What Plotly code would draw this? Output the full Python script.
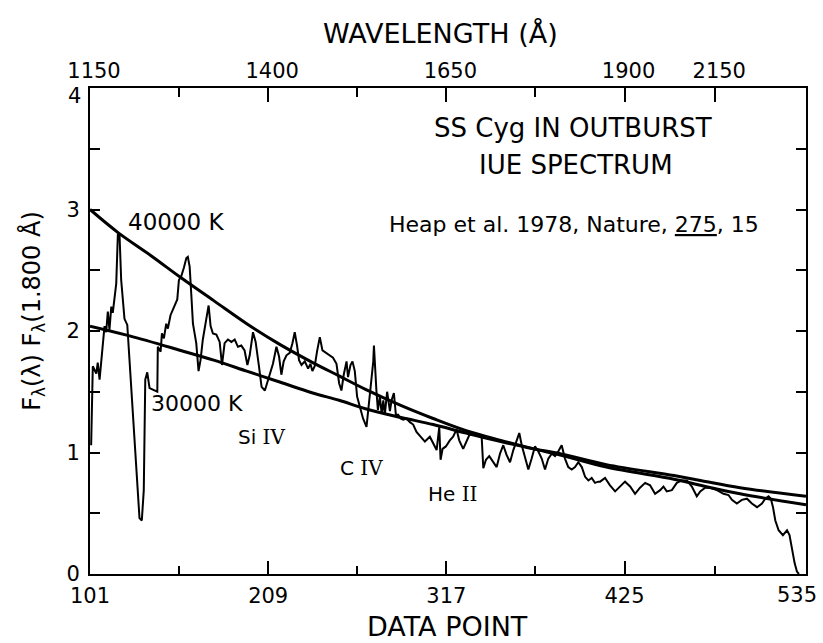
import plotly.graph_objects as go

# --- IUE spectrum of SS Cyg in outburst (flux normalised at 1800 A) ---
spec_x = [101.7, 102.7, 104.8, 105.7, 106.8, 107.8, 108.8, 109.8, 110.8, 111.8,
          112.8, 113.9, 114.8, 116.9, 117.9, 118.9, 119.9, 121.9, 123.6, 126.0,
          129.0, 131.0, 132.4, 133.6, 134.5, 135.7, 137.1, 141.8, 142.1, 143.8,
          144.6, 145.8, 147.2, 148.2, 149.8, 151.2, 152.3, 153.9, 154.9, 156.3,
          157.9, 159.4, 160.3, 161.4, 162.4, 163.4, 165.4, 166.8, 168.0, 169.4,
          171.5, 172.9, 174.1, 175.5, 177.6, 179.6, 181.0, 182.6, 184.6, 186.7,
          188.7, 190.7, 192.7, 194.7, 196.4, 197.8, 199.8, 201.4, 203.4, 205.0,
          207.0, 209.0, 211.9, 214.0, 215.6, 217.0, 218.4, 220.1, 222.1, 223.7,
          225.1, 226.5, 227.7, 229.2, 231.2, 233.2, 234.6, 235.8, 237.2, 238.6,
          240.3, 241.9, 243.9, 246.3, 248.3, 250.4, 252.0, 253.4, 254.8, 256.5,
          257.4, 258.9, 260.1, 261.5, 262.9, 264.5, 266.5, 268.6, 269.6, 270.2,
          271.2, 272.7, 273.1, 273.7, 274.6, 275.5, 276.7, 277.8, 278.8, 279.7,
          281.1, 282.8, 283.8, 285.2, 286.4, 287.8, 289.2, 290.8, 292.9, 294.9,
          296.9, 298.9, 300.9, 304.0, 307.0, 309.0, 311.1, 312.7, 313.5, 314.7,
          316.7, 319.1, 321.1, 323.2, 324.8, 327.2, 329.3, 330.8, 333.3, 336.3,
          338.4, 339.4, 341.0, 343.0, 345.4, 347.5, 349.5, 351.5, 353.5, 355.6,
          357.6, 359.6, 361.2, 362.7, 364.7, 366.7, 368.7, 370.7, 372.7, 374.8,
          376.8, 378.8, 380.9, 382.9, 384.9, 386.9, 388.9, 390.9, 393.0, 395.0,
          397.0, 399.1, 401.1, 403.1, 405.1, 407.1, 409.1, 410.2, 413.2, 416.2,
          419.3, 422.3, 425.3, 428.4, 431.4, 434.4, 437.5, 440.5, 443.5, 446.6,
          448.6, 450.6, 453.7, 456.7, 459.8, 462.8, 465.8, 468.8, 470.9, 473.9,
          476.9, 481.0, 485.0, 488.0, 490.1, 493.1, 496.1, 499.2, 502.2, 505.3,
          508.3, 510.3, 512.3, 513.7, 515.0, 516.4, 518.4, 521.0, 523.5, 525.0,
          526.5, 528.1, 529.5, 530.7]
spec_y = [1.06, 1.71, 1.65, 1.74, 1.60, 1.76, 1.95, 2.04, 1.99, 2.16,
          2.01, 2.20, 2.15, 2.39, 2.80, 2.79, 2.42, 2.10, 2.05, 1.54,
          0.88, 0.46, 0.44, 0.69, 1.60, 1.66, 1.53, 1.50, 1.87, 1.83,
          1.98, 1.94, 2.06, 2.02, 2.13, 2.17, 2.20, 2.26, 2.42, 2.45,
          2.52, 2.60, 2.61, 2.53, 2.30, 2.06, 1.90, 1.67, 1.76, 1.93,
          2.10, 2.21, 2.04, 1.98, 1.97, 1.91, 1.72, 1.90, 1.93, 1.91,
          1.93, 1.87, 1.88, 1.84, 1.72, 1.80, 1.99, 1.91, 1.71, 1.54,
          1.51, 1.60, 1.73, 1.87, 1.79, 1.64, 1.75, 1.80, 1.82, 1.90,
          1.99, 1.88, 1.76, 1.72, 1.75, 1.69, 1.73, 1.67, 1.71, 1.83,
          1.95, 1.84, 1.82, 1.80, 1.78, 1.73, 1.57, 1.51, 1.64, 1.75,
          1.62, 1.72, 1.75, 1.67, 1.46, 1.38, 1.28, 1.21, 1.35, 1.46,
          1.57, 1.75, 1.88, 1.71, 1.51, 1.35, 1.46, 1.32, 1.43, 1.31,
          1.50, 1.34, 1.43, 1.49, 1.31, 1.31, 1.28, 1.27, 1.28, 1.25,
          1.23, 1.17, 1.14, 1.09, 1.13, 1.08, 1.02, 1.21, 0.94, 1.03,
          1.05, 1.10, 1.13, 1.19, 1.10, 1.03, 1.10, 1.14, 1.16, 1.14,
          1.13, 0.87, 0.94, 0.97, 0.92, 0.88, 0.99, 1.06, 0.98, 0.92,
          1.02, 1.10, 1.16, 1.06, 0.97, 0.86, 0.95, 1.05, 1.01, 0.95,
          0.86, 0.95, 0.99, 0.97, 1.01, 1.06, 0.95, 0.88, 0.86, 0.88,
          0.92, 0.88, 0.80, 0.77, 0.79, 0.75, 0.76, 0.76, 0.79, 0.73,
          0.68, 0.72, 0.76, 0.72, 0.66, 0.71, 0.75, 0.73, 0.66, 0.69,
          0.72, 0.68, 0.69, 0.75, 0.77, 0.77, 0.72, 0.64, 0.68, 0.71,
          0.71, 0.69, 0.66, 0.65, 0.61, 0.58, 0.61, 0.62, 0.58, 0.55,
          0.58, 0.62, 0.64, 0.62, 0.55, 0.44, 0.36, 0.32, 0.36, 0.32,
          0.20, 0.09, 0.02, 0.00]

# --- Blackbody comparison curves, normalised at 1800 A ---
bb40_x = [101, 118, 138, 156, 176, 196, 216, 236, 252, 268,
          289, 309, 329, 350, 370, 386, 414, 455, 471, 495, 535]
bb40_y = [3.00, 2.81, 2.62, 2.44, 2.25, 2.06, 1.89, 1.74, 1.63, 1.52,
          1.39, 1.28, 1.18, 1.10, 1.03, 0.98, 0.88, 0.78, 0.73, 0.66, 0.57]

bb30_x = [101, 125, 156, 176, 196, 216, 236, 252, 268, 289,
          309, 329, 350, 370, 386, 414, 455, 471, 495, 535]
bb30_y = [2.04, 1.96, 1.84, 1.76, 1.67, 1.58, 1.49, 1.43, 1.36, 1.29,
          1.23, 1.16, 1.09, 1.03, 0.99, 0.90, 0.81, 0.77, 0.71, 0.64]

# --- Axes ---
dp_ticks = [101, 209, 317, 425]
dp_last = "535"
dp_minor = [155, 263, 371, 480]
wl_pos = [101, 209, 317, 425, 480]
wl_text = ["1150", "1400", "1650", "1900", "2150"]
wl_minor = [155, 263, 371]
y_ticks = [0, 1, 2, 3]
y_minor = [0.5, 1.5, 2.5, 3.5]
y_top_label = "4"

FONT = "DejaVu Sans"
INK = "black"

fig = go.Figure()
fig.add_trace(go.Scatter(x=bb40_x, y=bb40_y, mode="lines",
                         line=dict(color=INK, width=3, shape="spline", smoothing=1.0),
                         showlegend=False, hoverinfo="skip"))
fig.add_trace(go.Scatter(x=bb30_x, y=bb30_y, mode="lines",
                         line=dict(color=INK, width=3, shape="spline", smoothing=1.0),
                         showlegend=False, hoverinfo="skip"))
fig.add_trace(go.Scatter(x=spec_x, y=spec_y, mode="lines",
                         line=dict(color=INK, width=2),
                         showlegend=False))
# carrier for the wavelength axis along the top
fig.add_trace(go.Scatter(x=[101, 535], y=[None, None], xaxis="x2", yaxis="y",
                         mode="lines", showlegend=False, hoverinfo="skip"))

axis_common = dict(showgrid=False, zeroline=False, showline=True,
                   linecolor=INK, linewidth=2, ticks="inside",
                   tickcolor=INK, tickwidth=2, ticklabeloverflow="allow",
                   automargin=False,
                   tickfont=dict(family=FONT, size=21, color=INK))

fig.update_layout(
    width=823, height=643,
    margin=dict(l=90, r=17, t=88, b=69),
    paper_bgcolor="white", plot_bgcolor="white",
    font=dict(family=FONT, color=INK),
    xaxis=dict(range=[101, 535], tickvals=dp_ticks, ticklen=13,
               ticklabelstandoff=2,
               minor=dict(tickvals=dp_minor, ticklen=8, ticks="inside",
                          tickcolor=INK, tickwidth=2),
               **axis_common),
    xaxis2=dict(range=[101, 535], overlaying="x", side="top", anchor="y",
                tickvals=wl_pos, ticktext=wl_text, ticklen=14,
                ticklabelshift=4,
                minor=dict(tickvals=wl_minor, ticklen=9, ticks="inside",
                           tickcolor=INK, tickwidth=2),
                **axis_common),
    yaxis=dict(range=[0, 4], tickvals=y_ticks, ticklen=10, mirror="ticks",
               ticklabelstandoff=4,
               minor=dict(tickvals=y_minor, ticklen=10, ticks="inside",
                          tickcolor=INK, tickwidth=2),
               **axis_common),
)

def label(text, x, y, size, ref="data", **kw):
    xr, yr = ("x", "y") if ref == "data" else ("paper", "paper")
    fig.add_annotation(text=text, x=x, y=y, xref=xr, yref=yr, showarrow=False,
                       font=dict(family=FONT, size=size, color=INK),
                       xanchor="center", yanchor="middle", **kw)

# corner values, nudged inside the frame corners
label(y_top_label, -0.022, 0.983, 21, ref="paper")
label(dp_last, 0.987, -0.043, 21, ref="paper")

# axis titles
label("WAVELENGTH (Å)", 0.490, 1.113, 27, ref="paper")
label("DATA POINT", 0.499, -0.107, 27, ref="paper")
label("F<sub>λ</sub>(λ) F<sub>λ</sub>(1.800 Å)", -0.080, 0.541, 24,
      ref="paper", textangle=-90)

# captions inside the frame
label("SS Cyg IN OUTBURST", 393.8, 3.67, 26)
label("IUE SPECTRUM", 395.6, 3.37, 26)
label("Heap et al. 1978, Nature, <u>275</u>, 15", 394.4, 2.88, 22)
label("40000 K", 153.1, 2.90, 23)
label("30000 K", 165.9, 1.40, 22)

ROMAN = '<span style="font-family:DejaVu Serif">{}</span>'
label("Si " + ROMAN.format("IV"), 205.3, 1.13, 20)
label("C " + ROMAN.format("IV"), 265.3, 0.87, 20)
label("He " + ROMAN.format("II"), 321.0, 0.66, 20)

fig.write_html("out.html")
